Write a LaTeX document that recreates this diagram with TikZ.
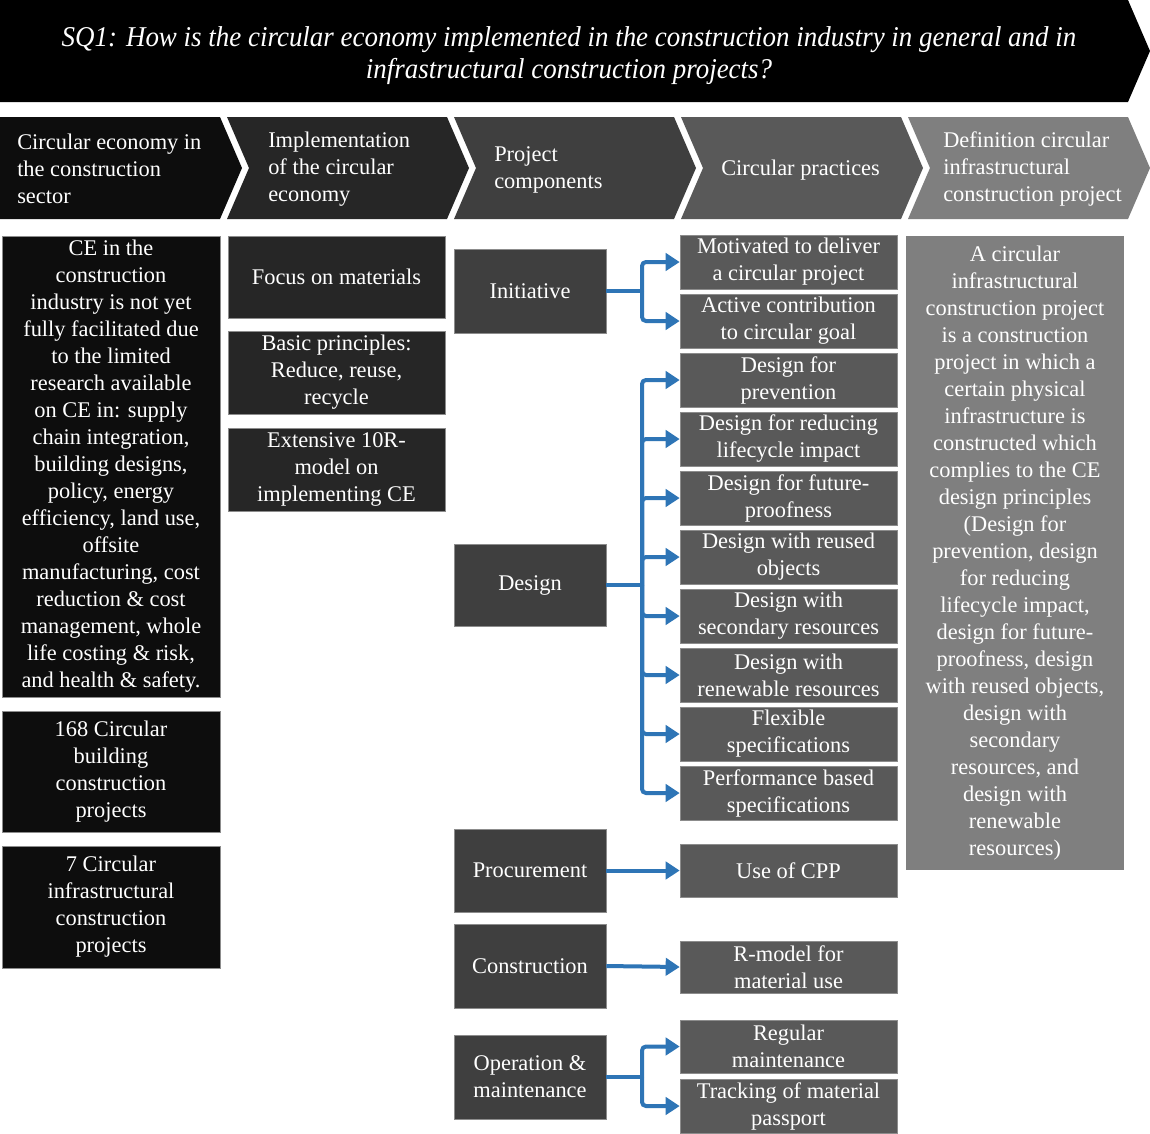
\documentclass[tikz,border=0pt]{standalone}
\usepackage{fontspec}
\setmainfont{Liberation Serif}
\usetikzlibrary{arrows.meta}

\definecolor{banner}{HTML}{000000}
\definecolor{cA}{HTML}{0D0D0D}
\definecolor{cB}{HTML}{262626}
\definecolor{cC}{HTML}{3F3F3F}
\definecolor{cD}{HTML}{595959}
\definecolor{cE}{HTML}{7F7F7F}
\definecolor{edge}{HTML}{8C8C8C}
\definecolor{flow}{HTML}{2E75B6}

% box: name, style, x1, y1, x2, y2, text  (coordinates in pixel units)
\newcommand{\pbox}[7]{%
  \node[#2, minimum width={(#5-#3)*0.75pt}, minimum height={(#6-#4)*0.75pt}]
    (#1) at ({(#3+#5)/2},{(#4+#6)/2}) {#7};}

\tikzset{
  txt/.style={text=white, align=center, inner sep=0pt,
    font=\fontsize{16.8}{20.25}\selectfont},
  boxA/.style={txt, fill=cA, draw=edge, line width=0.5pt},
  boxB/.style={txt, fill=cB, draw=edge, line width=0.5pt},
  boxC/.style={txt, fill=cC, draw=edge, line width=0.5pt},
  boxD/.style={txt, fill=cD, draw=edge, line width=0.5pt},
  boxE/.style={txt, fill=cE},
  headtxt/.style={txt, align=left, anchor=west},
  wire/.style={draw=flow, line width=3pt},
  conn/.style={wire, rounded corners=3pt,
    -{Triangle[length=10.5pt,width=13pt]}},
}

\begin{document}
\begin{tikzpicture}[x=0.75pt, y=-0.75pt]
\useasboundingbox[fill=white] (0,0) rectangle (1150,1133);

% title banner
\fill[banner] (0,0) -- (1128,0) -- (1150,51) -- (1128,102) -- (0,102) -- cycle;
\node[txt, font=\fontsize{21.5}{24}\itshape] (title) at (569,56)
  {\scalebox{0.94}[1]{SQ1: How is the circular economy implemented in the construction industry in general and in}\\
   \scalebox{0.94}[1]{infrastructural construction projects?}};

% header chevrons
\fill[cA] (0,117) -- (220,117) -- (242,168) -- (220,219) -- (0,219) -- cycle;
\foreach \i/\c in {1/cB,2/cC,3/cD,4/cE}{
  \pgfmathsetmacro{\L}{227*\i}
  \fill[\c] (\L,117) -- (\L+220,117) -- (\L+242,168) -- (\L+220,219)
    -- (\L,219) -- (\L+22,168) -- cycle;
}
\node[headtxt] (h1) at (17,169) {Circular economy in\\the construction\\sector};
\node[headtxt] (h2) at (268,169) {Implementation\\of the circular\\economy};
\node[headtxt] (h3) at (494,170) {Project\\components};
\node[headtxt] (h4) at (721,170) {Circular practices};
\node[headtxt] (h5) at (943,169) {Definition circular\\infrastructural\\construction project};

% column 1
\pbox{ce}{boxA}{2}{236}{220}{697}{CE in the\\construction\\industry is not yet\\fully facilitated due\\to the limited\\research available\\on CE in: supply\\chain integration,\\building designs,\\policy, energy\\efficiency, land use,\\offsite\\manufacturing, cost\\reduction \& cost\\management, whole\\life costing \& risk,\\and health \& safety.}
\pbox{bldg}{boxA}{2}{711}{220}{832}{168 Circular\\building\\construction\\projects}
\pbox{infra}{boxA}{2}{846}{220}{968}{7 Circular\\infrastructural\\construction\\projects}

% column 2
\pbox{focus}{boxB}{228}{236}{445}{318}{Focus on materials}
\pbox{basic}{boxB}{228}{331}{445}{414}{Basic principles:\\Reduce, reuse,\\recycle}
\pbox{tenr}{boxB}{228}{428}{445}{511}{Extensive 10R-\\model on\\implementing CE}

% column 3
\pbox{ini}{boxC}{454}{249}{606}{333}{Initiative}
\pbox{des}{boxC}{454}{544}{606}{626}{Design}
\pbox{proc}{boxC}{454}{829}{606}{912}{Procurement}
\pbox{cons}{boxC}{454}{924}{606}{1008}{Construction}
\pbox{om}{boxC}{454}{1035}{606}{1119}{Operation \&\\maintenance}

% column 4
\foreach \n/\t [count=\k from 0] in {
  p1/{Motivated to deliver\\a circular project},
  p2/{Active contribution\\to circular goal},
  p3/{Design for\\prevention},
  p4/{Design for reducing\\lifecycle impact},
  p5/{Design for future-\\proofness},
  p6/{Design with reused\\objects},
  p7/{Design with\\secondary resources},
  p8/{Design with\\renewable resources},
  p9/{Flexible\\specifications},
  p10/{Performance based\\specifications}}{
  \pgfmathsetmacro{\ytop}{235+59*\k}
  \pbox{\n}{boxD}{680}{\ytop}{897}{\ytop+54}{\t}
}
\pbox{cpp}{boxD}{680}{844}{897}{897}{Use of CPP}
\pbox{rmod}{boxD}{680}{941}{897}{993}{R-model for\\material use}
\pbox{reg}{boxD}{680}{1020}{897}{1073}{Regular\\maintenance}
\pbox{track}{boxD}{680}{1079}{897}{1133}{Tracking of material\\passport}

% column 5
\pbox{defn}{boxE}{906}{236}{1124}{870}{A circular\\infrastructural\\construction project\\is a construction\\project in which a\\certain physical\\infrastructure is\\constructed which\\complies to the CE\\design principles\\(Design for\\prevention, design\\for reducing\\lifecycle impact,\\design for future-\\proofness, design\\with reused objects,\\design with\\secondary\\resources, and\\design with\\renewable\\resources)}

% connectors
\coordinate (ib) at (642,291);
\draw[wire] (ini.east) -- (ib);
\foreach \t in {p1,p2} \draw[conn] (ib) |- (\t.west);

\coordinate (db) at (642,585);
\draw[wire] (des.east) -- (db);
\foreach \t in {p3,p4,p5,p6,p7,p8,p9,p10} \draw[conn] (db) |- (\t.west);

\draw[conn] (proc.east) -- (cpp.west);
\draw[conn] (cons.east) -- (rmod.west);

\coordinate (ob) at (642,1077);
\draw[wire] (om.east) -- (ob);
\foreach \t in {reg,track} \draw[conn] (ob) |- (\t.west);
\end{tikzpicture}
\end{document}
